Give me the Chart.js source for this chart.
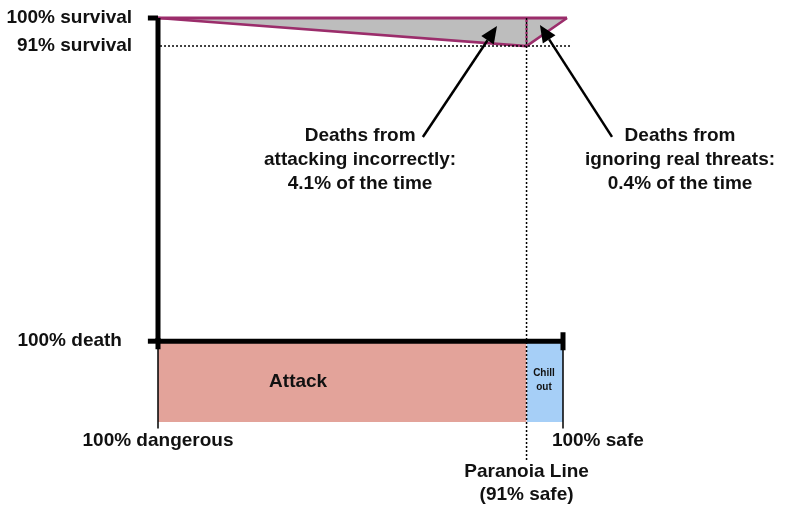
<!DOCTYPE html>
<html>
<head>
<meta charset="utf-8">
<script src="https://cdn.jsdelivr.net/npm/chart.js@4"></script>
<style>
  html, body { margin: 0; padding: 0; background: #fff; }
</style>
</head>
<body>
<canvas id="paranoiaChart" width="800" height="512"></canvas>
<script>
// x: 0 = 100% dangerous, 1 = 100% safe
// y: 0 = 100% death, 1 = 100% survival (bottom band sits below 0)
const paranoiaX = 0.91;
const survivalAtLine = 0.913;
const triangleX = [0, 0.91, 1.01];
const triangleY = [1, 0.913, 1];
const zoneNames = ['Attack', 'Chill out'];
const zoneFrom = [0, 0.91];
const zoneTo = [0.91, 1];
const yTickLabels = ['100% survival', '91% survival', '100% death'];
const yTickValues = [1, 0.913, 0];
const xTickLabels = ['100% dangerous', '100% safe'];
const xTickValues = [0, 1];
const noteLeft = ['Deaths from', 'attacking incorrectly:', '4.1% of the time'];
const noteRight = ['Deaths from', 'ignoring real threats:', '0.4% of the time'];
const lineLabel = ['Paranoia Line', '(91% safe)'];

const PURPLE = '#9b2d6b';
const FONT = '"Liberation Sans", Arial, sans-serif';

function seg(points, color, width, dash) {
    return {
        data: points.map(p => ({x: p[0], y: p[1]})),
        showLine: true,
        borderColor: color,
        borderWidth: width,
        borderDash: dash || [],
        pointRadius: 0,
        fill: false,
        clip: false
    };
}

const datasets = [
    // axes
    seg([[0, 0], [0, 1]], '#000', 5),
    seg([[0, 0], [1, 0]], '#000', 5),
    seg([[-0.025, 1], [0, 1]], '#000', 5),
    seg([[-0.025, 0], [0, 0]], '#000', 5),
    seg([[0, 0.01], [0, -0.025]], '#000', 5),
    seg([[1, 0.028], [1, -0.028]], '#000', 5),
    seg([[0, 0], [0, -0.27]], '#000', 1.5),
    seg([[1, 0], [1, -0.27]], '#000', 1.5),
    // guides
    seg([[paranoiaX, survivalAtLine], [paranoiaX, 1]], PURPLE, 2.5, [2, 2]),
    seg([[paranoiaX, 1], [paranoiaX, -0.368]], '#000', 1.5, [2, 2]),
    seg([[0.005, survivalAtLine], [1.02, survivalAtLine]], '#000', 1.5, [2, 2]),
    // survival triangle
    seg([[triangleX[0], 1], [triangleX[2], 1]], PURPLE, 3),
    Object.assign(seg(triangleX.map((x, i) => [x, triangleY[i]]), PURPLE, 2.5), {
        fill: {value: 1},
        backgroundColor: '#bdbdbd'
    }),
    // decision zones
    Object.assign(seg([[zoneFrom[0], 0], [zoneTo[0], 0]], 'rgba(0,0,0,0)', 0), {
        fill: 'start', backgroundColor: '#e3a39a'
    }),
    Object.assign(seg([[zoneFrom[1], 0], [zoneTo[1], 0]], 'rgba(0,0,0,0)', 0), {
        fill: 'start', backgroundColor: '#a6cff7'
    })
];

const texts = [
    {lines: [yTickLabels[0]], x: -0.064, y: yTickValues[0], align: 'right'},
    {lines: [yTickLabels[1]], x: -0.064, y: yTickValues[1], align: 'right'},
    {lines: [yTickLabels[2]], x: -0.089, y: yTickValues[2], align: 'right'},
    {lines: [xTickLabels[0]], x: xTickValues[0], y: -0.307, align: 'center'},
    {lines: [xTickLabels[1]], x: xTickValues[1] + 0.086, y: -0.307, align: 'center'},
    {lines: [zoneNames[0]], x: 0.346, y: -0.127, align: 'center'},
    {lines: zoneNames[1].split(' '), x: 0.953, y: -0.099, align: 'center', size: 10, gap: 14},
    {lines: lineLabel, x: paranoiaX, y: -0.405, align: 'center', gap: 23},
    {lines: noteLeft, x: 0.499, y: 0.635, align: 'center', gap: 24},
    {lines: noteRight, x: 1.289, y: 0.635, align: 'center', gap: 24}
];

const arrows = [
    {from: [0.654, 0.632], to: [0.837, 0.975]},
    {from: [1.121, 0.632], to: [0.943, 0.978]}
];

const overlay = {
    id: 'overlay',
    afterDatasetsDraw(chart) {
        const ctx = chart.ctx;
        const xs = chart.scales.x, ys = chart.scales.y;
        ctx.save();
        ctx.fillStyle = '#111';
        ctx.textBaseline = 'middle';
        texts.forEach(t => {
            const size = t.size || 19;
            ctx.font = 'bold ' + size + 'px ' + FONT;
            ctx.textAlign = t.align;
            const px = xs.getPixelForValue(t.x);
            let py = ys.getPixelForValue(t.y);
            t.lines.forEach(line => {
                ctx.fillText(line, px, py);
                py += t.gap || 0;
            });
        });
        ctx.strokeStyle = '#000';
        ctx.fillStyle = '#000';
        ctx.lineWidth = 2.5;
        arrows.forEach(a => {
            const x0 = xs.getPixelForValue(a.from[0]), y0 = ys.getPixelForValue(a.from[1]);
            const x1 = xs.getPixelForValue(a.to[0]), y1 = ys.getPixelForValue(a.to[1]);
            const ang = Math.atan2(y1 - y0, x1 - x0);
            const len = 17, half = 7.5;
            const bx = x1 - len * Math.cos(ang), by = y1 - len * Math.sin(ang);
            ctx.beginPath();
            ctx.moveTo(x0, y0);
            ctx.lineTo(bx, by);
            ctx.stroke();
            ctx.beginPath();
            ctx.moveTo(x1, y1);
            ctx.lineTo(bx + half * Math.sin(ang), by - half * Math.cos(ang));
            ctx.lineTo(bx - half * Math.sin(ang), by + half * Math.cos(ang));
            ctx.closePath();
            ctx.fill();
        });
        ctx.restore();
    }
};

new Chart(document.getElementById('paranoiaChart').getContext('2d'), {
    type: 'scatter',
    data: {datasets: datasets},
    options: {
        responsive: false,
        animation: false,
        layout: {padding: {left: 158, right: 237, top: 18, bottom: 90}},
        plugins: {legend: {display: false}, tooltip: {enabled: false}},
        scales: {
            x: {type: 'linear', min: 0, max: 1, display: false},
            y: {type: 'linear', min: -0.25, max: 1, display: false}
        }
    },
    plugins: [overlay]
});
</script>
</body>
</html>
